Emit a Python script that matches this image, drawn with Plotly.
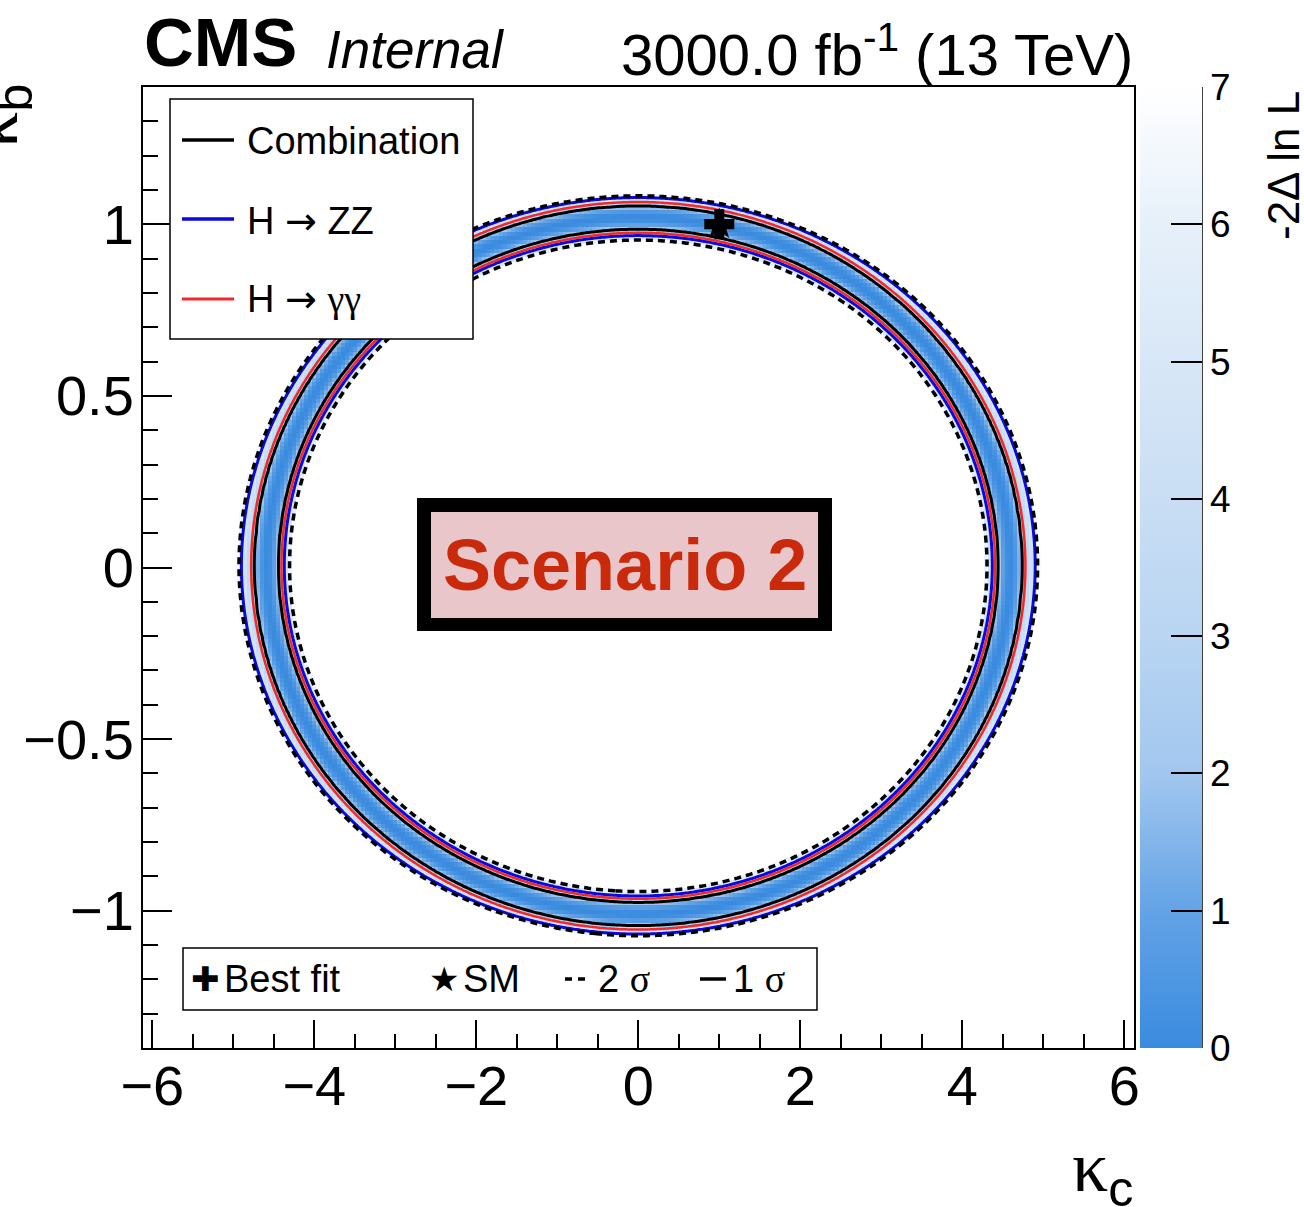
import numpy as np
import plotly.graph_objects as go

# ---------------- values ----------------
# Contour crossings on the kappa_c axis (|kc| at kb=0) and kappa_b axis (|kb| at kc=0)
# order: 2sigma inner, 1sigma inner, minimum, 1sigma outer, 2sigma outer
COMB_KC = [4.305, 4.445, 4.59, 4.735, 4.93]
COMB_KB = [0.949, 0.981, 1.0145, 1.048, 1.078]
COMB_NLL = [6.18, 2.30, 0.0, 2.30, 6.18]
# H->ZZ and H->gamma gamma: 1sigma inner, minimum, 1sigma outer
ZZ_KC = [4.37, 4.635, 4.90]
ZZ_KB = [0.962, 1.0175, 1.073]
GG_KC = [4.405, 4.5925, 4.78]
GG_KB = [0.970, 1.015, 1.060]
SINGLE_NLL = [2.30, 0.0, 2.30]
RING_CENTER = [0.0, 0.005]
CONTOUR_1SIGMA = 2.30
CONTOUR_2SIGMA = 6.18
BEST_FIT = [1.0, 1.0]
SM_POINT = [1.0, 1.0]
X_TICKS = [-6, -4, -2, 0, 2, 4, 6]
Y_TICKS = [-1, -0.5, 0, 0.5, 1]
Z_TICKS = [0, 1, 2, 3, 4, 5, 6, 7]
X_RANGE = [-6.115, 6.12]
Y_RANGE = [-1.4, 1.4]
Z_RANGE = [0, 7]

SANS = "Liberation Sans"
SERIF = "Liberation Serif"

# ---------------- likelihood surfaces built from the read contours ----------------
def nll_surface(X, Y, kc, kb, nll):
    kc = np.asarray(kc, float)
    kb = np.asarray(kb, float)
    nll = np.asarray(nll, float)
    m = int(np.argmin(nll))
    q = np.sqrt(nll)
    q[:m] *= -1
    ac, ab = kc[m], kb[m]
    ux = (X - RING_CENTER[0]) / ac
    uy = (Y - RING_CENTER[1]) / ab
    u = np.hypot(ux, uy)
    t = ux ** 2 / np.maximum(u ** 2, 1e-12)
    knots = t[..., None] * (kc / ac) + (1 - t[..., None]) * (kb / ab)
    idx = np.sum(u[..., None] > knots[..., 1:-1], axis=-1)
    k0 = np.take_along_axis(knots, idx[..., None], -1)[..., 0]
    k1 = np.take_along_axis(knots, (idx + 1)[..., None], -1)[..., 0]
    qv = q[idx] + (q[idx + 1] - q[idx]) * (u - k0) / (k1 - k0)
    return qv ** 2

xc = np.linspace(-5.4, 5.4, 301)
yc = np.linspace(-1.25, 1.25, 301)
XC, YC = np.meshgrid(xc, yc)
Z_COMB = np.round(np.minimum(nll_surface(XC, YC, COMB_KC, COMB_KB, COMB_NLL), 40), 3)
Z_ZZ = np.round(np.minimum(nll_surface(XC, YC, ZZ_KC, ZZ_KB, SINGLE_NLL), 40), 3)
Z_GG = np.round(np.minimum(nll_surface(XC, YC, GG_KC, GG_KB, SINGLE_NLL), 40), 3)

xh = np.arange(-6.1, 6.1001, 0.05)
yh = np.arange(-1.39, 1.3901, 0.0125)
XH, YH = np.meshgrid(xh, yh)
Z_HEAT = nll_surface(XH, YH, COMB_KC, COMB_KB, COMB_NLL)
Z_HEAT = np.where(Z_HEAT > Z_RANGE[1], np.nan, np.round(Z_HEAT, 3))

COLORSCALE = [
    [0.0, "#3a8bdf"], [1 / 7, "#63a3e6"], [2 / 7, "#a2c7ef"], [3 / 7, "#b9d5f2"],
    [4 / 7, "#c9def4"], [5 / 7, "#d8e7f7"], [6 / 7, "#e6f0fa"], [1.0, "#ffffff"],
]

# ---------------- pixel helpers for decorations ----------------
L, T, R, B = 143, 87, 1134, 1048
PW, PH = R - L, B - T


def px(x):
    return (x - L) / PW


def py(y):
    return (B - y) / PH


def ann(text, x, y, size, xanchor="left", yanchor="middle", family=SANS, color="black", angle=0):
    return dict(text=text, x=px(x), y=py(y), xref="paper", yref="paper", showarrow=False,
                xanchor=xanchor, yanchor=yanchor, borderpad=0, textangle=angle,
                font=dict(size=size, family=family, color=color))


def rect(x0, y0, x1, y1, fill, line_color="black", width=1.5):
    return dict(type="rect", xref="paper", yref="paper", x0=px(x0), x1=px(x1), y0=py(y1), y1=py(y0),
                fillcolor=fill, line=dict(color=line_color, width=width), layer="above")


def hline(x0, x1, y, color, width, dash="solid"):
    return dict(type="line", xref="paper", yref="paper", x0=px(x0), x1=px(x1), y0=py(y), y1=py(y),
                line=dict(color=color, width=width, dash=dash), layer="above")


fig = go.Figure()

fig.add_trace(go.Heatmap(
    x=xh, y=yh, z=Z_HEAT, zmin=Z_RANGE[0], zmax=Z_RANGE[1], colorscale=COLORSCALE,
    hoverinfo="skip",
    colorbar=dict(x=px(1140), xanchor="left", xpad=0, ypad=0, y=0.5, yanchor="middle",
                  len=1, lenmode="fraction", thickness=62, thicknessmode="pixels",
                  outlinewidth=0, ticks="inside", ticklen=31, tickwidth=1.5, tickcolor="black",
                  tickvals=Z_TICKS, tickfont=dict(size=37, family=SANS, color="black")),
))


def contour(z, level, color, width, dash="solid"):
    return go.Contour(x=xc, y=yc, z=z, autocontour=False, showscale=False, hoverinfo="skip",
                      contours=dict(start=level, end=level, size=10, coloring="none"),
                      line=dict(color=color, width=width, dash=dash, smoothing=1))


fig.add_trace(contour(Z_ZZ, CONTOUR_1SIGMA, "#0a0ae0", 3))
fig.add_trace(contour(Z_GG, CONTOUR_1SIGMA, "#f52828", 2.5))
fig.add_trace(contour(Z_COMB, CONTOUR_1SIGMA, "black", 3))
fig.add_trace(contour(Z_COMB, CONTOUR_2SIGMA, "black", 3.5, dash="7px,5px"))

fig.add_trace(go.Scatter(x=[SM_POINT[0]], y=[SM_POINT[1]], mode="markers", hoverinfo="skip",
                         marker=dict(symbol="star", size=24, color="black")))
fig.add_trace(go.Scatter(x=[BEST_FIT[0]], y=[BEST_FIT[1]], mode="markers", hoverinfo="skip",
                         marker=dict(symbol="cross", size=25, color="black")))

axis_common = dict(showgrid=False, zeroline=False, showline=True, linecolor="black", linewidth=2,
                   mirror=True, ticks="inside", tickcolor="black", tickwidth=1.5,
                   tickfont=dict(size=56, family=SANS, color="black"))

fig.update_xaxes(range=X_RANGE, tickvals=X_TICKS, ticklen=28, ticklabelstandoff=-12,
                 minor=dict(dtick=0.5, tick0=0, ticks="inside", ticklen=14, tickcolor="black",
                            tickwidth=1.5, showgrid=False),
                 **axis_common)
fig.update_yaxes(range=Y_RANGE, tickvals=Y_TICKS, ticklen=29, ticklabelstandoff=-4,
                 minor=dict(dtick=0.1, tick0=0, ticks="inside", ticklen=15, tickcolor="black",
                            tickwidth=1.5, showgrid=False),
                 **axis_common)

ARROW = "<span style='font-family:DejaVu Sans'>→</span>"

shapes = [
    # colorbar axis line
    dict(type="line", xref="paper", yref="paper", x0=px(1202), x1=px(1202), y0=0, y1=1,
         line=dict(color="black", width=1.5)),
    # top-left legend
    rect(170, 99, 473, 339, "white"),
    hline(182, 234, 140, "black", 3.5),
    hline(182, 234, 219, "#0a0ae0", 3.5),
    hline(182, 234, 299, "#f52828", 3),
    # bottom legend
    rect(183, 948, 817, 1010, "white"),
    hline(565, 588, 979, "black", 3.5, dash="7px,6px"),
    hline(700, 726, 979, "black", 3.5),
    # scenario label
    rect(417, 498, 832, 631, "black", line_color="black", width=0),
    rect(431, 512, 818, 618, "#e9c6ca", line_color="#e9c6ca", width=0),
]

annotations = [
    ann("<b>CMS</b>", 143, 43, 69),
    ann("<i>Internal</i>", 325, 49, 53),
    ann("3000.0 fb<sup>-1</sup> (13 TeV)", 1134, 51, 58, xanchor="right"),
    ann("Combination", 246, 141, 38),
    ann("H " + ARROW + " ZZ", 246, 221, 38),
    ann("H " + ARROW + " <span style='font-family:Liberation Serif'>γγ</span>", 246, 299, 38),
    ann("<b>Scenario 2</b>", 625, 565, 72, xanchor="center", color="#c92a0c"),
    ann("✚", 205, 979, 34, xanchor="center", family="DejaVu Sans"),
    ann("Best fit", 223, 979, 38),
    ann("★", 444, 979, 34, xanchor="center", family="DejaVu Sans"),
    ann("SM", 462, 979, 38),
    ann("2 <span style='font-family:Liberation Serif'>σ</span>", 597, 979, 38),
    ann("1 <span style='font-family:Liberation Serif'>σ</span>", 732, 979, 38),
    ann("<span style='font-family:Liberation Serif'>κ</span><sub>c</sub>", 1134, 1218, 72,
        xanchor="right", yanchor="bottom"),
    ann("<span style='font-family:Liberation Serif'>κ</span><sub>b</sub>", -2, 116, 72,
        xanchor="center", angle=-90),
    ann("-2Δ ln L", 1283, 166, 44, xanchor="center", angle=-90),
]

fig.update_layout(
    width=1304, height=1207, autosize=False,
    margin=dict(l=L, r=1304 - R, t=T, b=1207 - B, pad=0),
    paper_bgcolor="white", plot_bgcolor="white",
    showlegend=False, shapes=shapes, annotations=annotations,
    font=dict(family=SANS, color="black"),
)

fig.write_html("out.html")
